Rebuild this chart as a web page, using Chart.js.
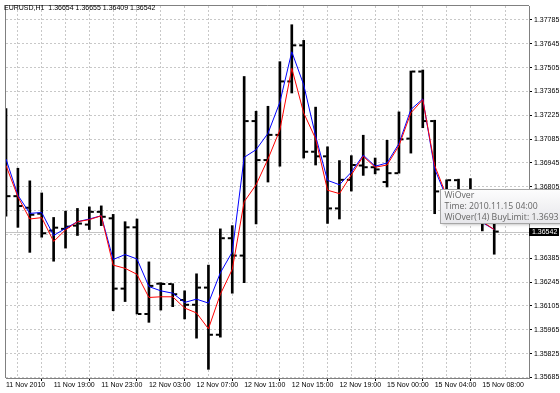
<!DOCTYPE html>
<html>
<head>
<meta charset="utf-8">
<script src="https://cdn.jsdelivr.net/npm/chart.js@4.4.0/dist/chart.umd.min.js"></script>
<style>
html, body { margin: 0; padding: 0; background: #fff; }
#wrap { width: 560px; height: 393px; position: relative; }
</style>
</head>
<body>
<div id="wrap"><canvas id="chartJSContainer"></canvas></div>
<script>
var symbolTitle = 'EURUSD,H1';

// one label every 4 hourly bars
var axisLabels = ['11 Nov 2010', '11 Nov 19:00', '11 Nov 23:00', '12 Nov 03:00', '12 Nov 07:00',
    '12 Nov 11:00', '12 Nov 15:00', '12 Nov 19:00', '15 Nov 00:00', '15 Nov 04:00', '15 Nov 08:00'];

var yTicks = [1.35685, 1.35825, 1.35965, 1.36105, 1.36245, 1.36385, 1.36525, 1.36665,
    1.36805, 1.36945, 1.37085, 1.37225, 1.37365, 1.37505, 1.37645, 1.37785];

var opens = [1.37007, 1.36750, 1.36682, 1.36647, 1.36548, 1.36558, 1.36577, 1.36583, 1.36658, 1.36620,
    1.36207, 1.36567, 1.36058, 1.36236, 1.36234, 1.36140, 1.36112, 1.36213, 1.35936, 1.36503,
    1.36401, 1.37191, 1.36962, 1.37110, 1.37424, 1.37636, 1.37011, 1.36984, 1.36678, 1.36846,
    1.36930, 1.36920, 1.36833, 1.36885, 1.37088, 1.37482, 1.37191, 1.36775, 1.36844, 1.36688,
    1.36647, 1.36654];
var highs = [1.37264, 1.36914, 1.36840, 1.36769, 1.36625, 1.36662, 1.36678, 1.36687, 1.36693, 1.36643,
    1.36600, 1.36616, 1.36364, 1.36242, 1.36236, 1.36194, 1.36294, 1.36345, 1.36558, 1.36577,
    1.37453, 1.37249, 1.37278, 1.37540, 1.37757, 1.37665, 1.37273, 1.37040, 1.36959, 1.36988,
    1.37108, 1.36974, 1.37078, 1.37245, 1.37485, 1.37491, 1.37196, 1.36846, 1.36850, 1.36853,
    1.36746, 1.36655];
var lows = [1.36633, 1.36567, 1.36420, 1.36509, 1.36368, 1.36445, 1.36519, 1.36554, 1.36577, 1.36077,
    1.36131, 1.36058, 1.36009, 1.36081, 1.36101, 1.36029, 1.35916, 1.35733, 1.35922, 1.36180,
    1.36242, 1.36587, 1.36833, 1.36926, 1.37356, 1.36974, 1.36933, 1.36590, 1.36616, 1.36780,
    1.36872, 1.36881, 1.36804, 1.36885, 1.37003, 1.37152, 1.36647, 1.36688, 1.36629, 1.36600,
    1.36546, 1.36409];
var closes = [1.36750, 1.36692, 1.36641, 1.36532, 1.36565, 1.36571, 1.36589, 1.36658, 1.36629, 1.36207,
    1.36567, 1.36058, 1.36223, 1.36234, 1.36174, 1.36112, 1.36213, 1.35936, 1.36503, 1.36401,
    1.37191, 1.36962, 1.37110, 1.37424, 1.37636, 1.37011, 1.36984, 1.36678, 1.36846, 1.36933,
    1.36920, 1.36907, 1.36885, 1.37084, 1.37482, 1.37191, 1.36778, 1.36844, 1.36688, 1.36647,
    1.36653, 1.36542];

// WiOver(14) indicator lines
var overLine = [1.36968, 1.36755, 1.36649, 1.36654, 1.36519, 1.36561, 1.36600, 1.36616, 1.36635, 1.36378,
    1.36407, 1.36381, 1.36219, 1.36194, 1.36180, 1.36126, 1.36145, 1.36122, 1.36300, 1.36422,
    1.36978, 1.37023, 1.37119, 1.37302, 1.37598, 1.37404, 1.37104, 1.36843, 1.36817, 1.36891,
    1.36991, 1.36926, 1.36945, 1.37059, 1.37259, 1.37321, 1.36910, 1.36740, 1.36682, 1.36635,
    1.36595, 1.36554];
var buyLimit = [1.36930, 1.36746, 1.36616, 1.36624, 1.36484, 1.36552, 1.36600, 1.36612, 1.36635, 1.36345,
    1.36326, 1.36291, 1.36155, 1.36159, 1.36159, 1.36093, 1.36064, 1.35971, 1.36174, 1.36320,
    1.36717, 1.36817, 1.36968, 1.37139, 1.37501, 1.37239, 1.37088, 1.36785, 1.36765, 1.36875,
    1.36984, 1.36920, 1.36933, 1.37046, 1.37239, 1.37317, 1.36930, 1.36751, 1.36688, 1.36641,
    1.36600, 1.36554];

var tipBar = 36;
var tipTime = '2010.11.15 04:00';

var lastClose = closes[closes.length - 1];
var tickShift = 0.23;

function pts(arr, shift) {
    return arr.map(function (v, i) { return { x: i + shift, y: v }; });
}

Chart.defaults.font.family = '"Liberation Sans", Arial, sans-serif';
Chart.defaults.font.size = 7;
Chart.defaults.color = '#000';

var overlay = {
    id: 'overlay',
    beforeDatasetsDraw: function (chart) {
        var ctx = chart.ctx, a = chart.chartArea;
        var y = Math.round(chart.scales.y.getPixelForValue(lastClose)) + 0.5;
        ctx.save();
        ctx.strokeStyle = '#c4c4c4';
        ctx.lineWidth = 1;
        ctx.beginPath();
        ctx.moveTo(a.left, y);
        ctx.lineTo(a.right, y);
        ctx.stroke();
        ctx.restore();
    },
    afterDraw: function (chart) {
        var ctx = chart.ctx, a = chart.chartArea;
        var xs = chart.scales.x, ys = chart.scales.y;
        ctx.save();

        // frame
        ctx.strokeStyle = '#808080';
        ctx.lineWidth = 1;
        ctx.beginPath();
        ctx.moveTo(a.left - 0.5, a.bottom);
        ctx.lineTo(a.left - 0.5, a.top - 0.5);
        ctx.lineTo(a.right, a.top - 0.5);
        ctx.stroke();

        // current price label
        var py = Math.round(ys.getPixelForValue(lastClose));
        ctx.fillStyle = '#000';
        ctx.fillRect(a.right, py - 4, 30, 8);
        ctx.fillStyle = '#fff';
        ctx.font = '7px "Liberation Sans", Arial, sans-serif';
        ctx.textBaseline = 'middle';
        ctx.fillText(lastClose.toFixed(5), a.right + 3, py);

        // header
        var n = closes.length - 1;
        ctx.fillStyle = '#000';
        ctx.fillText(symbolTitle + '  ' + [opens[n], highs[n], lows[n], closes[n]].map(function (v) {
            return v.toFixed(5);
        }).join(' '), 4, 8);

        // tooltip
        var tx = Math.round(xs.getPixelForValue(tipBar)) + 5.5, ty = 189.5, tw = 120, th = 34;
        ctx.shadowColor = 'rgba(0,0,0,0.3)';
        ctx.shadowBlur = 3;
        ctx.shadowOffsetX = 1;
        ctx.shadowOffsetY = 1;
        var g = ctx.createLinearGradient(0, ty, 0, ty + th);
        g.addColorStop(0, '#fdfdfd');
        g.addColorStop(1, '#e6e6ea');
        ctx.fillStyle = g;
        ctx.fillRect(tx, ty, tw, th);
        ctx.shadowColor = 'transparent';
        ctx.strokeStyle = '#a6a6a6';
        ctx.strokeRect(tx, ty, tw, th);
        ctx.fillStyle = '#666';
        ctx.font = '8.7px "Open Sans", sans-serif';
        ctx.fillText('WiOver', tx + 4, ty + 6);
        ctx.fillText('Time: ' + tipTime, tx + 4, ty + 17);
        ctx.fillText('WiOver(14) BuyLimit: ' + buyLimit[tipBar].toFixed(4), tx + 4, ty + 28.5);
        ctx.restore();
    }
};

var options = {
    type: 'line',
    data: {
        datasets: [
            {
                label: 'BuyLimit',
                data: pts(buyLimit, 0),
                borderColor: '#ff0000',
                borderWidth: 1,
                pointRadius: 0,
                tension: 0,
                order: 0
            },
            {
                label: 'WiOver',
                data: pts(overLine, 0),
                borderColor: '#0000ff',
                borderWidth: 1,
                pointRadius: 0,
                tension: 0,
                order: 1
            },
            {
                type: 'bar',
                label: 'Range',
                data: highs.map(function (h, i) { return { x: i, y: [lows[i], h] }; }),
                backgroundColor: '#000',
                borderWidth: 0,
                barThickness: 2,
                order: 2
            },
            {
                label: 'Open',
                data: pts(opens, -tickShift),
                showLine: false,
                pointStyle: 'line',
                pointRadius: 1.75,
                pointBorderWidth: 2,
                pointBorderColor: '#000',
                order: 2
            },
            {
                label: 'Close',
                data: pts(closes, tickShift),
                showLine: false,
                pointStyle: 'line',
                pointRadius: 1.75,
                pointBorderWidth: 2,
                pointBorderColor: '#000',
                order: 2
            }
        ]
    },
    options: {
        responsive: true,
        maintainAspectRatio: false,
        animation: false,
        events: [],
        layout: { padding: { left: 2, top: 2, right: 0, bottom: 0 } },
        plugins: {
            legend: { display: false },
            tooltip: { enabled: false }
        },
        scales: {
            x: {
                type: 'linear',
                min: 0,
                max: 43.92,
                offset: false,
                afterFit: function (s) { s.height = 15; s.paddingLeft = 0; s.paddingRight = 0; },
                ticks: {
                    stepSize: 2,
                    autoSkip: false,
                    maxRotation: 0,
                    align: 'start',
                    padding: 0,
                    callback: function (v) {
                        return (v % 4 === 0 && axisLabels[v / 4]) ? axisLabels[v / 4] : '';
                    }
                },
                grid: {
                    color: '#c8c8c8',
                    tickLength: 3,
                    tickColor: function (c) {
                        return (c.tick && c.tick.value % 4 === 0) ? '#000' : 'rgba(0,0,0,0)';
                    }
                },
                border: { color: '#808080', dash: [2, 2] }
            },
            y: {
                type: 'linear',
                position: 'right',
                min: 1.35682,
                max: 1.37867,
                afterBuildTicks: function (s) {
                    s.ticks = yTicks.map(function (v) { return { value: v }; });
                },
                afterFit: function (s) { s.width = 31; s.paddingTop = 0; s.paddingBottom = 0; },
                ticks: {
                    padding: 2,
                    callback: function (v) {
                        return Math.abs(v - lastClose) < 0.0005 ? '' : v.toFixed(5);
                    }
                },
                grid: {
                    color: '#c8c8c8',
                    tickLength: 3,
                    tickColor: '#000'
                },
                border: { color: '#808080', dash: [2, 2] }
            }
        }
    },
    plugins: [overlay]
};

var ctx = document.getElementById('chartJSContainer').getContext('2d');
new Chart(ctx, options);
</script>
</body>
</html>
